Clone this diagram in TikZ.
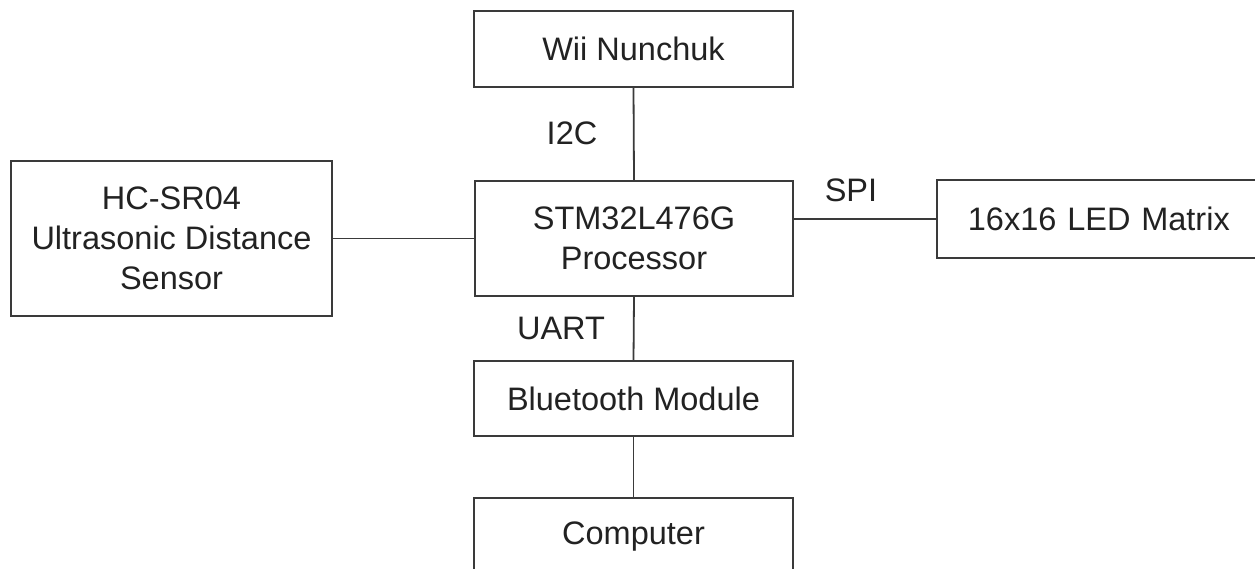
\documentclass[tikz,border=0pt]{standalone}
\usepackage{fontspec}
\setmainfont{Liberation Sans}
\definecolor{linecol}{HTML}{3A3A3A}
\definecolor{txtcol}{HTML}{222222}
\tikzset{
  blk/.style={draw=linecol, line width=1.8pt, rectangle, fill=white, text=txtcol,
    font=\fontsize{32.5}{40}\selectfont, align=center, inner sep=0pt},
  lbl/.style={text=txtcol, font=\fontsize{32.5}{40}\selectfont, inner sep=0pt},
  wire/.style={draw=linecol, line width=1.8pt}
}
\begin{document}
\begin{tikzpicture}[x=1pt,y=-1pt]
\useasboundingbox (0,0) rectangle (1255,569);
\begin{scope}
\clip (0,0) rectangle (1255,569);
\fill[white] (0,0) rectangle (1255,569);
\node[blk, minimum width=319, minimum height=76] (wii) at (633.5,49) {Wii Nunchuk};
\node[blk, minimum width=318, minimum height=115] (proc) at (634,238.5) {STM32L476G\\Processor};
\node[blk, minimum width=321, minimum height=155] (hc) at (171.5,238.5) {HC-SR04\\Ultrasonic Distance\\Sensor};
\node[blk, draw=none, anchor=west, minimum width=380, minimum height=76, text width=320, inner xsep=30pt, align=left] (led) at (937,219) {16x16 LED Matrix};
\draw[wire] (led.north east) -- (led.north west) -- (led.south west) -- (led.south east);
\node[blk, minimum width=319, minimum height=78] (comp) at (633.5,537) {Computer};
\node[blk, minimum width=319, minimum height=75] (bt) at (633.5,398.5) {Bluetooth Module};
\draw[wire] (wii.south) -- (proc.north);
\draw[wire] (hc.east) -- (hc.east -| proc.west);
\draw[wire] (proc.east |- led.west) -- (led.west);
\draw[wire] (proc.south) -- (bt.north);
\draw[wire] (bt.south) -- (comp.north);
\node[lbl] (i2c) at (572,133) {I2C};
\node[lbl] (spi) at (851,190) {SPI};
\node[lbl] (uart) at (561,328) {UART};
\end{scope}
\end{tikzpicture}
\end{document}
